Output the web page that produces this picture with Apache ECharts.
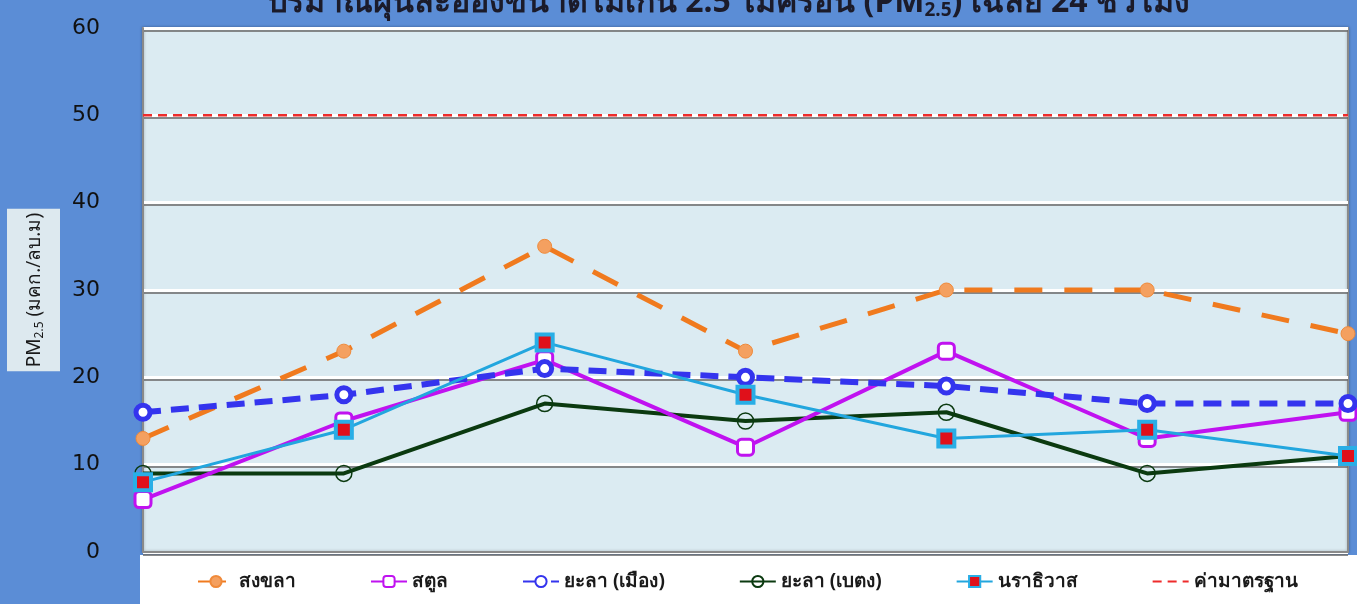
<!DOCTYPE html>
<html>
<head>
<meta charset="utf-8">
<script src="https://cdn.jsdelivr.net/npm/echarts@6/dist/echarts.min.js"></script>
<style>html,body{margin:0;padding:0;background:#5b8dd6;}#c{width:1357px;height:604px;}</style>
</head>
<body>
<div id="c"></div>
<script>
const categories = ['1', '2', '3', '4', '5', '6', '7'];
const songkhla = [13, 23, 35, 23, 30, 30, 25];
const satun = [6, 15, 22, 12, 23, 13, 16];
const yalaMueang = [16, 18, 21, 20, 19, 17, 17];
const yalaBetong = [9, 9, 17, 15, 16, 9, 11];
const narathiwat = [8, 14, 24, 18, 13, 14, 11];
const standard = [50, 50, 50, 50, 50, 50, 50];
const yTicks = [0, 10, 20, 30, 40, 50, 60];
const seriesNames = ['สงขลา', 'สตูล', 'ยะลา (เมือง)', 'ยะลา (เบตง)', 'นราธิวาส', 'ค่ามาตรฐาน'];

const FONT = "'Noto Sans', 'DejaVu Sans', sans-serif";
const chart = echarts.init(document.getElementById('c'), null, {renderer: 'canvas'});
chart.setOption({
  backgroundColor: '#5b8dd6',
  animation: false,
  title: {
    text: 'ปริมาณฝุ่นละอองขนาดไม่เกิน 2.5 ไมครอน (PM{s|2.5}) เฉลี่ย 24 ชั่วโมง',
    left: 262, top: -20,
    textStyle: {
      fontFamily: FONT, fontSize: 32, fontWeight: 'bold', color: '#1b1b2a',
      rich: { s: { fontSize: 19, fontWeight: 'bold', color: '#1b1b2a', verticalAlign: 'bottom', padding: [16, 0, 0, 0] } }
    }
  },
  graphic: [
    { type: 'rect', left: 140, top: 555, shape: { width: 1217, height: 49 }, style: { fill: '#ffffff' }, z: 0, silent: true }
  ],
  grid: {
    left: 143, right: 9, top: 28, bottom: 52,
    outerBoundsMode: 'none', containLabel: false,
    show: true, backgroundColor: '#dbebf2', borderColor: '#8a8a8a', borderWidth: 2,
    shadowColor: 'rgba(0,0,0,0.25)', shadowBlur: 3
  },
  legend: {
    data: seriesNames.slice(0, 5).map(function (n) { return { name: n }; })
      .concat([{ name: seriesNames[5], itemStyle: { opacity: 0 } }]),
    bottom: 8, left: 192,
    itemGap: 74, itemWidth: 36, itemHeight: 14,
    textStyle: { fontFamily: FONT, fontSize: 19, color: '#1a1a1a', fontWeight: 'bold' }
  },
  xAxis: {
    type: 'category', data: categories, boundaryGap: false,
    axisLabel: { show: false }, axisTick: { show: false },
    axisLine: { show: true, lineStyle: { color: '#8a8a8a', width: 2 } },
    splitLine: { show: false }
  },
  yAxis: {
    type: 'value', min: 0, max: 60, interval: 10,
    name: 'PM{s|2.5} (มคก./ลบ.ม)',
    nameLocation: 'middle', nameRotate: 90, nameGap: 83,
    nameTextStyle: {
      fontFamily: FONT, fontSize: 19, color: '#1a1a1a', backgroundColor: '#dde9ef',
      padding: [16, 4, 14, 4],
      rich: { s: { fontSize: 12, color: '#1a1a1a', verticalAlign: 'bottom', padding: [11, 0, 0, 0] } }
    },
    axisLabel: {
      fontFamily: "'DejaVu Sans', sans-serif", fontSize: 22, color: '#111111', margin: 43,
      formatter: function (v) { return yTicks.indexOf(v) >= 0 ? String(v) : ''; }
    },
    axisTick: { show: false },
    axisLine: { show: true, lineStyle: { color: '#8a8a8a', width: 2 } },
    splitLine: { show: true, lineStyle: { color: '#ffffff', width: 3, shadowColor: 'rgba(110,110,110,0.8)', shadowOffsetY: 2, shadowBlur: 0 } }
  },
  series: [
    {
      name: seriesNames[0], type: 'line', data: songkhla, z: 3,
      lineStyle: { color: '#f07a1e', width: 5, type: [28, 22] },
      itemStyle: { color: '#f4a060', borderColor: '#f08a3a', borderWidth: 1 },
      symbol: 'circle', symbolSize: 14
    },
    {
      name: seriesNames[1], type: 'line', data: satun, z: 4,
      lineStyle: { color: '#c012f0', width: 4 },
      itemStyle: { color: '#ffffff', borderColor: '#c012f0', borderWidth: 3 },
      symbol: 'roundRect', symbolSize: 16
    },
    {
      name: seriesNames[2], type: 'line', data: yalaMueang, z: 5,
      lineStyle: { color: '#3434ee', width: 6, type: [18, 10] },
      itemStyle: { color: '#ffffff', borderColor: '#3434ee', borderWidth: 5 },
      symbol: 'circle', symbolSize: 14
    },
    {
      name: seriesNames[3], type: 'line', data: yalaBetong, z: 3,
      lineStyle: { color: '#0b3a10', width: 4 },
      itemStyle: { color: 'rgba(0,0,0,0)', borderColor: '#0b3a10', borderWidth: 1.5 },
      symbol: 'circle', symbolSize: 16
    },
    {
      name: seriesNames[4], type: 'line', data: narathiwat, z: 6,
      lineStyle: { color: '#22a6de', width: 3 },
      itemStyle: { color: '#e0101a', borderColor: '#29aee6', borderWidth: 4 },
      symbol: 'rect', symbolSize: 16
    },
    {
      name: seriesNames[5], type: 'line', data: standard, z: 2,
      lineStyle: { color: '#ee2b2b', width: 2.5, type: [9, 6] },
      itemStyle: { color: '#ee2b2b' },
      symbol: 'none'
    }
  ]
});
</script>
</body>
</html>
